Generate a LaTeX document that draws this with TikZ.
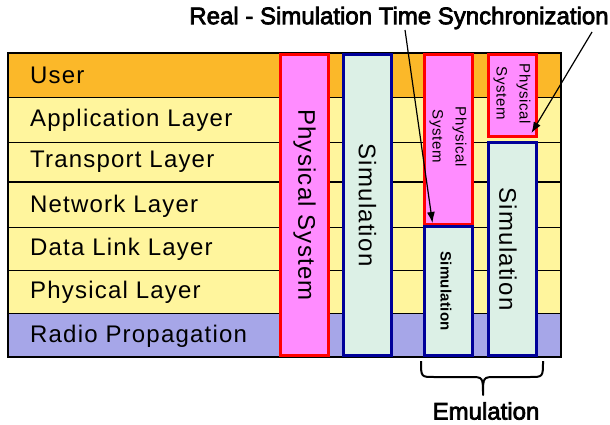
\documentclass[tikz,border=0pt]{standalone}
\usepackage{fontspec}
\setmainfont{Liberation Sans}
\newfontfamily\titlefont[FakeBold=3]{Liberation Sans}
\usepackage{tikz}
\usetikzlibrary{positioning}
\usetikzlibrary{arrows.meta}

\definecolor{userorange}{HTML}{FBB829}
\definecolor{layeryellow}{HTML}{FFF59D}
\definecolor{radioblue}{HTML}{A6A6E8}
\definecolor{physpink}{HTML}{FF8CFF}
\definecolor{physred}{HTML}{FF0000}
\definecolor{simgreen}{HTML}{DCF0E6}
\definecolor{simblue}{HTML}{000099}

\begin{document}
\begin{tikzpicture}[x=1pt,y=-1pt,
    layer/.style={anchor=west,inner sep=0pt,font=\fontsize{24}{26}\selectfont\addfontfeature{LetterSpace=5}},
    physbox/.style={draw=physred,fill=physpink,line width=3pt,inner sep=0pt,minimum width=48pt},
    simbox/.style={draw=simblue,fill=simgreen,line width=3pt,inner sep=0pt,minimum width=48pt},
    biglabel/.style={rotate=-90,inner sep=0pt,font=\fontsize{24}{26}\selectfont\addfontfeature{LetterSpace=5}},
    smalllabel/.style={rotate=-90,inner sep=0pt,align=center,font=\fontsize{15}{23}\selectfont\addfontfeature{LetterSpace=4}},
    titletext/.style={inner sep=0pt,font=\titlefont\fontsize{24}{26}\selectfont},
    syncarrow/.style={line width=1.2pt,-{Latex[length=11pt,width=8pt]}}
]
    \useasboundingbox (0,0) rectangle (610,425);

    % layer rows
    \fill[userorange] (8,53) rectangle (561,97);
    \fill[layeryellow] (8,97) rectangle (561,313);
    \fill[radioblue] (8,313) rectangle (561,357);
    \draw[line width=0.8pt] (8,97) -- (561,97);
    \draw[line width=0.8pt] (8,142) -- (561,142);
    \draw[line width=1.6pt] (8,182) -- (561,182);
    \draw[line width=0.8pt] (8,227) -- (561,227);
    \draw[line width=0.8pt] (8,270) -- (561,270);
    \draw[line width=0.8pt] (8,313) -- (561,313);
    \draw[line width=1.5pt] (8,53) rectangle (561,357);

    \node[layer] (user) at (30,75) {User};
    \node[layer] (app) at (30,120) {Application Layer};
    \node[layer] (transport) at (30,162) {Transport Layer};
    \node[layer] (network) at (30,206) {Network Layer};
    \node[layer] (datalink) at (30,249) {Data Link Layer};
    \node[layer] (physical) at (30,292) {Physical Layer};
    \node[layer] (radio) at (30,336) {Radio Propagation};

    % columns
    \node[physbox,minimum height=301pt] (ps1) at (304.5,205) {};
    \node[simbox,minimum height=301pt] (sim1) at (367.5,205) {};
    \node[physbox,minimum height=170pt] (ps2) at (448,139.5) {};
    \node[simbox,minimum height=129pt] (sim2) at (448,291) {};
    \node[physbox,minimum height=82pt] (ps3) at (512,95.5) {};
    \node[simbox,minimum height=213pt] (sim3) at (512,249) {};

    \node[biglabel] (ps1text) at (ps1.center) {Physical System};
    \node[biglabel] (sim1text) at (sim1.center) {Simulation};
    \node[smalllabel] (ps2text) at ([yshift=3pt]ps2.center) {Physical\\System};
    \node[smalllabel,font=\bfseries\fontsize{15}{18}\selectfont\addfontfeature{LetterSpace=2}] (sim2text) at ([xshift=-2pt]sim2.center) {Simulation};
    \node[smalllabel] (ps3text) at ([yshift=2pt]ps3.center) {Physical\\System};
    \node[biglabel] (sim3text) at ([xshift=-4pt]sim3.center) {Simulation};

    % synchronization arrows
    \node[titletext] (title) at (399,18) {Real - Simulation Time Synchronization};
    \coordinate (sync1) at (405,30);
    \coordinate (sync2) at (592,32);
    \draw[syncarrow] (sync1) -- ([xshift=10pt,yshift=3pt]ps2.south west);
    \draw[syncarrow] (sync2) -- ([xshift=-6pt,yshift=5pt]ps3.south east);

    % emulation brace
    \draw[line width=2pt,line join=round] (421,361) .. controls (421,377) .. (434,377) -- (470,377)
        .. controls (483,377) .. (483,395) .. controls (483,377) .. (496,377) -- (530,377)
        .. controls (543,377) .. (543,361);
    \node[titletext] (emul) at (486,411) {Emulation};
\end{tikzpicture}
\end{document}
